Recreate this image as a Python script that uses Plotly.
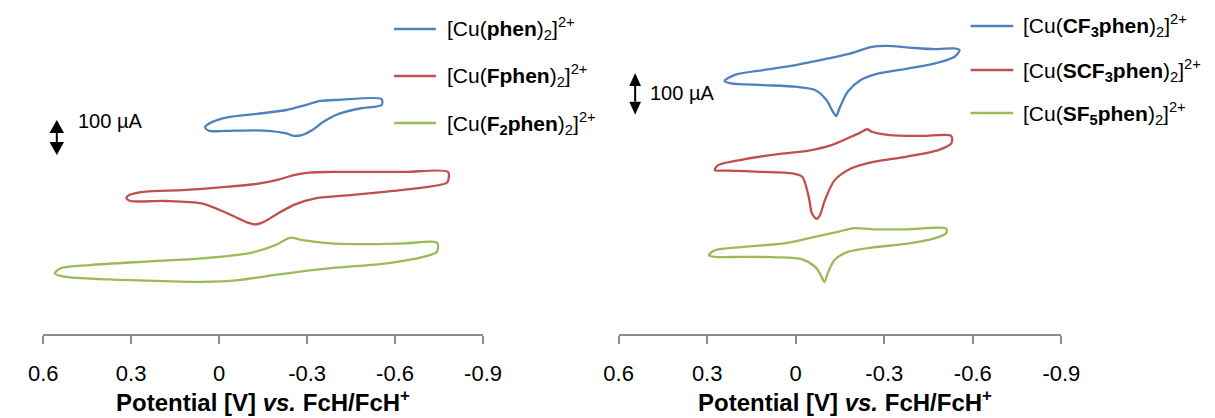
import plotly.graph_objects as go

# ---- Cyclic voltammograms (potential in V vs. FcH/FcH+, current in µA, offset for stacking) ----
# Left panel
phen_E = [0.048, 0.023, -0.028, -0.129, -0.230, -0.294, -0.345, -0.408, -0.554, -0.554, -0.484,
          -0.408, -0.357, -0.318, -0.281, -0.255, -0.230, -0.154, -0.053, 0.036, 0.048]
phen_I = [591, 606, 619, 629, 640, 654, 666, 669, 671, 654, 645,
          629, 607, 583, 568, 566, 573, 581, 581, 581, 591]

Fphen_E = [0.316, 0.307, 0.250, 0.124, -0.003, -0.129, -0.206, -0.255, -0.306, -0.381, -0.509,
           -0.636, -0.781, -0.781, -0.775, -0.699, -0.572, -0.446, -0.332, -0.255, -0.192, -0.154,
           -0.123, -0.098, -0.028, 0.060, 0.187, 0.302, 0.316]
Fphen_I = [388, 397, 407, 411, 419, 429, 442, 454, 461, 463, 463,
           463, 463, 438, 431, 419, 407, 397, 388, 369, 340, 321,
           313, 318, 345, 373, 380, 380, 388]

F2phen_E = [0.560, 0.541, 0.440, 0.250, 0.060, -0.104, -0.192, -0.243, -0.281, -0.382, -0.509,
            -0.636, -0.743, -0.743, -0.699, -0.572, -0.382, -0.192, -0.066, 0.060, 0.187, 0.377,
            0.529, 0.560]
F2phen_I = [173, 188, 197, 207, 216, 231, 254, 275, 269, 259, 257,
            259, 261, 235, 221, 202, 188, 169, 154, 149, 151, 156,
            164, 173]

# Right panel
CF3phen_E = [0.241, 0.208, 0.110, 0.000, -0.110, -0.187, -0.253, -0.308, -0.384, -0.472, -0.538,
             -0.555, -0.538, -0.472, -0.384, -0.275, -0.220, -0.176, -0.148, -0.137, -0.126, -0.104,
             -0.066, 0.000, 0.110, 0.219, 0.241]
CF3phen_I = [607, 621, 633, 645, 661, 673, 688, 691, 687, 683, 685,
             681, 665, 649, 637, 624, 609, 581, 541, 523, 533, 561,
             585, 593, 597, 601, 607]

SCF3phen_E = [0.274, 0.263, 0.176, 0.066, -0.044, -0.121, -0.187, -0.219, -0.242, -0.258, -0.318,
              -0.428, -0.527, -0.527, -0.483, -0.373, -0.263, -0.187, -0.132, -0.099, -0.082, -0.071,
              -0.055, -0.044, -0.022, 0.011, 0.121, 0.231, 0.274]
SCF3phen_I = [393, 405, 419, 431, 440, 453, 473, 483, 491, 485, 477,
              475, 475, 457, 441, 425, 413, 397, 369, 321, 285, 276,
              289, 329, 377, 385, 389, 392, 393]

SF5phen_E = [0.294, 0.274, 0.176, 0.033, -0.077, -0.143, -0.198, -0.263, -0.373, -0.510, -0.510,
             -0.472, -0.373, -0.263, -0.176, -0.132, -0.110, -0.097, -0.088, -0.066, -0.022, 0.066,
             0.176, 0.274, 0.294]
SF5phen_I = [189, 201, 209, 218, 235, 245, 254, 251, 251, 253, 242,
             230, 216, 208, 197, 178, 149, 124, 137, 161, 179, 184,
             185, 185, 189]

left_names = ["[Cu(<b>phen</b>)<sub>2</sub>]<sup>2+</sup>",
              "[Cu(<b>Fphen</b>)<sub>2</sub>]<sup>2+</sup>",
              "[Cu(<b>F<sub>2</sub>phen</b>)<sub>2</sub>]<sup>2+</sup>"]
right_names = ["[Cu(<b>CF<sub>3</sub>phen</b>)<sub>2</sub>]<sup>2+</sup>",
               "[Cu(<b>SCF<sub>3</sub>phen</b>)<sub>2</sub>]<sup>2+</sup>",
               "[Cu(<b>SF<sub>5</sub>phen</b>)<sub>2</sub>]<sup>2+</sup>"]

tick_vals = [0.6, 0.3, 0, -0.3, -0.6, -0.9]
tick_text = ["0.6", "0.3", "0", "-0.3", "-0.6", "-0.9"]
x_title = "<b>Potential [V] <i>vs.</i> FcH/FcH<sup>+</sup></b>"
scale_bar_uA = 100

colors = ["#4f81bd", "#c0504d", "#9bbb59"]

# ---- figure geometry (pixels) ----
W, H = 1215, 418
axis_y_px = 334                      # pixel row of the x-axis lines
left_x_px = (29, 481.5)
right_x_px = (621, 1076.5)
left_yrange = 954.3                  # µA spanned from axis line to top edge
right_yrange = 801.0

FONT = "Liberation Sans, Arial, sans-serif"

fig = go.Figure()

left_sets = [(phen_E, phen_I), (Fphen_E, Fphen_I), (F2phen_E, F2phen_I)]
right_sets = [(CF3phen_E, CF3phen_I), (SCF3phen_E, SCF3phen_I), (SF5phen_E, SF5phen_I)]

for (E, I), c, n in zip(left_sets, colors, left_names):
    fig.add_trace(go.Scatter(x=E, y=I, mode="lines", name=n, showlegend=False,
                             line=dict(color=c, width=2.3, shape="spline", smoothing=0.8),
                             xaxis="x", yaxis="y"))
for (E, I), c, n in zip(right_sets, colors, right_names):
    fig.add_trace(go.Scatter(x=E, y=I, mode="lines", name=n, showlegend=False,
                             line=dict(color=c, width=2.3, shape="spline", smoothing=0.8),
                             xaxis="x2", yaxis="y2"))

y_dom = [(H - axis_y_px) / H, 1.0]
xaxis_common = dict(range=[0.6, -0.9], tickvals=tick_vals, ticktext=tick_text,
                    showline=True, linecolor="#8c8c8c", linewidth=1.5,
                    ticks="outside", ticklen=8, tickwidth=1.5, tickcolor="#8c8c8c",
                    showgrid=False, zeroline=False, ticklabelstandoff=11,
                    tickfont=dict(family=FONT, size=22, color="#000000"))

fig.update_layout(
    width=W, height=H, margin=dict(l=0, r=0, t=0, b=0),
    paper_bgcolor="white", plot_bgcolor="white", showlegend=False,
    xaxis=dict(domain=[left_x_px[0] / W, left_x_px[1] / W], anchor="y", **xaxis_common),
    xaxis2=dict(domain=[right_x_px[0] / W, right_x_px[1] / W], anchor="y2", **xaxis_common),
    yaxis=dict(domain=y_dom, range=[0, left_yrange], visible=False),
    yaxis2=dict(domain=y_dom, range=[0, right_yrange], visible=False),
)


def px_y(py):
    return (H - py) / H


annotations = []
shapes = []

# axis titles
for cx in [(left_x_px[0] + left_x_px[1]) / 2, (right_x_px[0] + right_x_px[1]) / 2 + 5]:
    annotations.append(dict(text=x_title, x=cx / W, y=0, xref="paper", yref="paper",
                            xanchor="center", yanchor="bottom", showarrow=False,
                            font=dict(family=FONT, size=24, color="#000000")))

# legends drawn as line samples + labels
legend_specs = [
    (390, 433, 442, [29, 76, 123], left_names),
    (983, 1027, 1035, [26, 70, 113], right_names),
]
for x0, x1, tx, ys, names in legend_specs:
    for yy, c, n in zip(ys, colors, names):
        shapes.append(dict(type="line", xref="paper", yref="paper",
                           x0=x0 / W, x1=x1 / W, y0=px_y(yy), y1=px_y(yy),
                           line=dict(color=c, width=2.5)))
        annotations.append(dict(text=n, x=tx / W, y=px_y(yy), xref="paper", yref="paper",
                                xanchor="left", yanchor="middle", showarrow=False,
                                font=dict(family=FONT, size=21, color="#000000")))

# 100 µA scale bars (double-headed arrows spanning scale_bar_uA on each current axis)
bars = [
    # x px, top px, yref, y-range, head half-width px, head height px, label x px, label y px
    (43, 120, "y", left_yrange, 7.5, 13, 63, 121),
    (638, 73, "y2", right_yrange, 6, 13, 651, 93),
]
for bx, top_px, yref, yr, hw, hh, lx, ly in bars:
    per_px = yr / axis_y_px
    y_top = (axis_y_px - top_px) * per_px
    y_bot = y_top - scale_bar_uA
    hh_u = hh * per_px
    xc = bx / W
    dx = hw / W
    shapes.append(dict(type="path", xref="paper", yref=yref,
                       path=f"M {xc},{y_top} L {xc - dx},{y_top - hh_u} L {xc + dx},{y_top - hh_u} Z",
                       fillcolor="#000000", line=dict(width=0)))
    shapes.append(dict(type="path", xref="paper", yref=yref,
                       path=f"M {xc},{y_bot} L {xc - dx},{y_bot + hh_u} L {xc + dx},{y_bot + hh_u} Z",
                       fillcolor="#000000", line=dict(width=0)))
    shapes.append(dict(type="line", xref="paper", yref=yref, x0=xc, x1=xc,
                       y0=y_top - hh_u, y1=y_bot + hh_u, line=dict(color="#000000", width=2)))
    annotations.append(dict(text="100 µA", x=lx / W, y=px_y(ly), xref="paper", yref="paper",
                            xanchor="left", yanchor="middle", showarrow=False,
                            font=dict(family=FONT, size=20, color="#000000")))

fig.update_layout(annotations=annotations, shapes=shapes)
fig.write_html("out.html")
